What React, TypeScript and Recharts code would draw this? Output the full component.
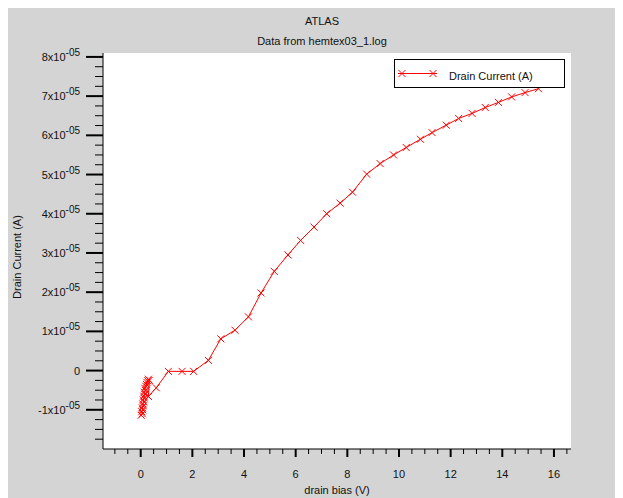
import React from "react";
import { LineChart, Line, XAxis, YAxis, CartesianGrid, Legend } from "recharts";

// drain bias sweep (V) and drain current (A)
const drainBias = [
  0.02, 0.06, 0.04, 0.08, 0.06, 0.1, 0.08, 0.12, 0.1, 0.14, 0.12, 0.16, 0.14, 0.18,
  0.16, 0.2, 0.22, 0.24, 0.27, 0.3, 0.33, 0.3, 0.6, 1.07, 1.6, 2.05, 2.62, 3.1, 3.65,
  4.17, 4.66, 5.17, 5.7, 6.19, 6.71, 7.2, 7.72, 8.2, 8.75, 9.27, 9.79, 10.28, 10.83,
  11.28, 11.83, 12.31, 12.83, 13.34, 13.85, 14.36, 14.88, 15.4,
];
const drainCurrent = [
  -1.14e-5, -1.1e-5, -1.05e-5, -1.0e-5, -0.95e-5, -0.9e-5, -0.85e-5, -0.8e-5, -0.75e-5,
  -0.7e-5, -0.65e-5, -0.6e-5, -0.55e-5, -0.5e-5, -0.45e-5, -0.4e-5, -0.35e-5, -0.3e-5,
  -0.26e-5, -0.22e-5, -0.25e-5, -0.66e-5, -0.44e-5, -0.02e-5, -0.02e-5, -0.02e-5,
  0.26e-5, 0.81e-5, 1.03e-5, 1.37e-5, 1.98e-5, 2.53e-5, 2.95e-5, 3.32e-5, 3.66e-5,
  4.0e-5, 4.27e-5, 4.55e-5, 5.01e-5, 5.28e-5, 5.5e-5, 5.69e-5, 5.9e-5, 6.07e-5,
  6.26e-5, 6.43e-5, 6.56e-5, 6.71e-5, 6.84e-5, 6.98e-5, 7.09e-5, 7.19e-5,
];

const xMajorTicks = [0, 2, 4, 6, 8, 10, 12, 14, 16];
const yMajorTicks = [-1e-5, 0, 1e-5, 2e-5, 3e-5, 4e-5, 5e-5, 6e-5, 7e-5, 8e-5];
const yExponent = "-05";

// minor ticks: 4 subdivisions per major step
const xTicks = Array.from({ length: 36 }, (_, i) => -1 + i * 0.5);
const yTicks = Array.from({ length: 40 }, (_, i) => (-1.75 + i * 0.25) * 1e-5);

const data = drainBias.map((v, i) => ({ bias: v, current: drainCurrent[i] }));

const FONT = "'Liberation Sans', Arial, sans-serif";
const RED = "#ff0000";

const isMajorX = (v: number) => xMajorTicks.some((m) => Math.abs(m - v) < 1e-9);
const isMajorY = (v: number) => yMajorTicks.some((m) => Math.abs(m - v) < 1e-12);

const XTick = (props: any) => {
  const { x, y, payload } = props;
  const major = isMajorX(payload.value);
  return (
    <g>
      <line x1={x} x2={x} y1={y} y2={y + (major ? 8 : 5)} stroke="#000" strokeWidth={major ? 2 : 1} />
      {major && (
        <text x={x} y={y + 29} textAnchor="middle" fontSize={11} fontFamily={FONT} fill="#111">
          {payload.value}
        </text>
      )}
    </g>
  );
};

const YTick = (props: any) => {
  const { x, y, payload } = props;
  const v = payload.value;
  const major = isMajorY(v);
  const mant = Math.round(v / 1e-5);
  return (
    <g>
      <line x1={x - (major ? 17 : 8)} x2={x} y1={y} y2={y} stroke="#000" strokeWidth={major ? 2 : 1} />
      {major && (
        <text x={x - 23} y={y + 4} textAnchor="end" fontSize={11} fontFamily={FONT} fill="#111">
          {mant === 0 ? (
            "0"
          ) : (
            <>
              <tspan>{`${mant}x10`}</tspan>
              <tspan dy={-5} fontSize={10}>{yExponent}</tspan>
            </>
          )}
        </text>
      )}
    </g>
  );
};

const Cross = (props: any) => {
  const { cx, cy, index } = props;
  if (cx == null || cy == null) return <g key={index} />;
  const r = 3.5;
  return (
    <g key={index}>
      <line x1={cx - r} y1={cy - r} x2={cx + r} y2={cy + r} stroke={RED} strokeWidth={1} />
      <line x1={cx - r} y1={cy + r} x2={cx + r} y2={cy - r} stroke={RED} strokeWidth={1} />
    </g>
  );
};

const LegendBox = () => (
  <svg width={171} height={30} style={{ display: "block" }}>
    <rect x={0.5} y={0.5} width={170} height={28} fill="#fff" stroke="#000" />
    <line x1={4} x2={43} y1={14.5} y2={14.5} stroke={RED} />
    <Cross cx={8} cy={14.5} index={0} />
    <Cross cx={39} cy={14.5} index={1} />
    <text x={55} y={21} fontSize={11} fontFamily={FONT} fill="#111">
      Drain Current (A)
    </text>
  </svg>
);

export default function App() {
  const W = 607;
  const H = 500;
  return (
    <div style={{ position: "relative", width: W, height: H, background: "#d4d4d4" }}>
      <LineChart width={W} height={H} data={data} margin={{ top: 45, right: 44, bottom: 0, left: 0 }}>
        <CartesianGrid fill="#fff" horizontal={false} vertical={false} />
        <XAxis
          dataKey="bias"
          type="number"
          domain={[-1.46, 16.66]}
          allowDataOverflow
          ticks={xTicks}
          interval={0}
          tick={<XTick />}
          tickSize={0}
          tickMargin={0}
          tickLine={false}
          height={59}
          axisLine={{ stroke: "#000" }}
        />
        <XAxis xAxisId="top" orientation="top" type="number" domain={[0, 1]} height={0} tick={false} tickLine={false} axisLine={{ stroke: "#000" }} />
        <YAxis
          type="number"
          domain={[-2e-5, 8.1e-5]}
          allowDataOverflow
          ticks={yTicks}
          interval={0}
          tick={<YTick />}
          tickSize={0}
          tickMargin={0}
          tickLine={false}
          width={95}
          axisLine={{ stroke: "#000" }}
        />
        <YAxis yAxisId="right" orientation="right" type="number" domain={[0, 1]} width={0} tick={false} tickLine={false} axisLine={{ stroke: "#000" }} />
        <Legend
          layout="vertical"
          align="center"
          verticalAlign="middle"
          content={() => <LegendBox />}
          wrapperStyle={{ position: "absolute", left: 386, top: 51, width: 171, height: 30 }}
        />
        <Line
          type="linear"
          dataKey="current"
          name="Drain Current (A)"
          stroke={RED}
          strokeWidth={1}
          dot={<Cross />}
          activeDot={false}
          isAnimationActive={false}
        />
      </LineChart>
      <svg width={W} height={H} style={{ position: "absolute", left: 0, top: 0, pointerEvents: "none" }}>
        <g fontFamily={FONT} fontSize={11} fill="#111" textAnchor="middle">
          <text x={314} y={17}>ATLAS</text>
          <text x={314} y={37}>Data from hemtex03_1.log</text>
          <text x={329} y={486}>drain bias (V)</text>
          <text transform="translate(13,249) rotate(-90)">Drain Current (A)</text>
        </g>
      </svg>
    </div>
  );
}
